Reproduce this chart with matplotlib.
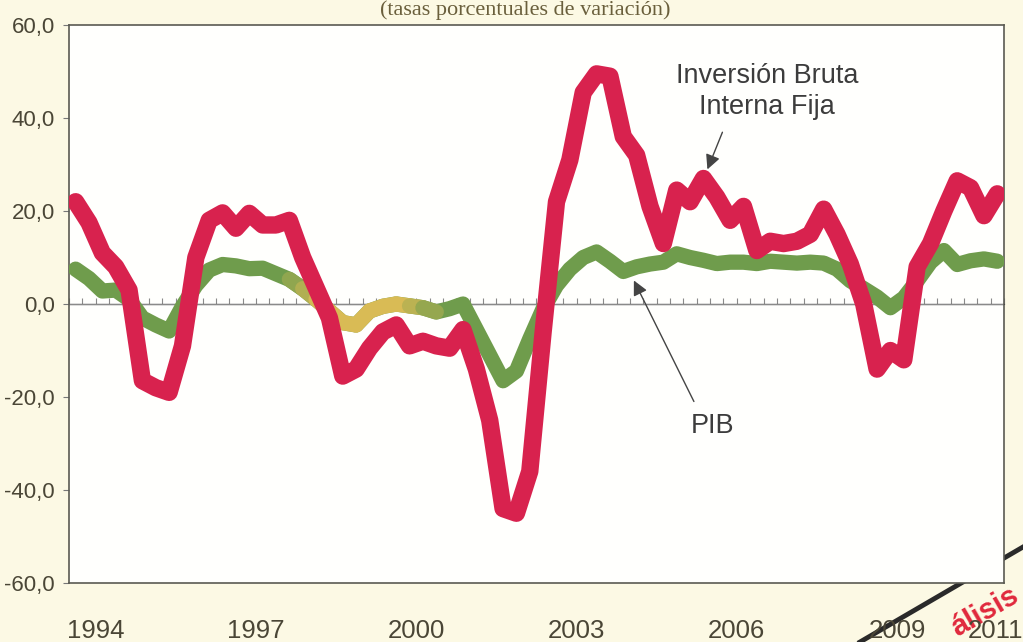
import numpy as np
import matplotlib
matplotlib.use("Agg")
import matplotlib.pyplot as plt
from matplotlib.collections import LineCollection
from matplotlib.colors import to_rgb

# ---------------- data ----------------
start_year = 1994
# Inversión Bruta Interna Fija, quarterly growth (%), 1994Q1 .. 2011Q2
ibif = [22.0, 17.5, 11.0, 8.0, 3.0, -16.5, -18.0, -19.0, -9.0, 10.0,
        18.0, 19.6, 16.3, 19.5, 17.0, 17.0, 18.0, 10.0, 3.5, -3.0,
        -15.5, -14.0, -9.5, -6.0, -4.5, -9.0, -8.0, -9.0, -9.5, -5.5,
        -14.0, -25.0, -44.0, -45.0, -36.0, -6.0, 22.0, 31.0, 45.5, 49.5,
        49.0, 36.0, 32.0, 21.0, 13.0, 24.5, 22.0, 27.0, 23.0, 18.0,
        21.0, 11.5, 13.5, 13.0, 13.5, 15.0, 20.4, 15.0, 8.6, 0.0,
        -14.0, -10.0, -12.0, 8.0, 13.0, 20.0, 26.5, 25.0, 19.0, 23.7]
# PIB, quarterly growth (%)
pib = [7.5, 5.5, 2.8, 3.0, 1.0, -3.0, -4.5, -5.8, -0.5, 4.0,
       7.3, 8.5, 8.2, 7.6, 7.7, 6.5, 5.3, 3.3, 1.0, -1.5,
       -4.0, -4.5, -1.5, -0.5, 0.0, -0.4, -0.8, -1.7, -1.0, 0.0,
       -5.5, -11.0, -16.5, -14.4, -7.5, -1.0, 4.0, 7.5, 10.0, 11.2,
       9.2, 7.0, 8.0, 8.6, 9.0, 10.8, 10.0, 9.4, 8.7, 9.0,
       9.0, 8.7, 9.2, 9.0, 8.8, 9.0, 8.8, 7.5, 5.0, 3.3,
       1.5, -0.8, 1.3, 5.0, 9.0, 11.5, 8.5, 9.3, 9.7, 9.2]
year_labels = ["1994", "1997", "2000", "2003", "2006", "2009", "2011"]
y_ticks = [-60, -40, -20, 0, 20, 40, 60]
y_tick_labels = ["-60,0", "-40,0", "-20,0", "0,0", "20,0", "40,0", "60,0"]
title_text = "(tasas porcentuales de variación)"
label_ibif = "Inversión Bruta\nInterna Fija"
label_pib = "PIB"
stamp_text = "álisis"

# ---------------- figure ----------------
bg = "#fcf9e4"
fig = plt.figure(figsize=(10.23, 6.42), dpi=100, facecolor=bg)

# scanned diagonal stroke (behind the plot area)
fig.add_artist(plt.Line2D([860 / 1023, 1.0], [0.0, 1 - 547 / 642],
                          transform=fig.transFigure, color="#2a2a2a", lw=3.5,
                          zorder=0))

ax = fig.add_axes([0.0674, 0.0919, 0.9140, 0.8691], zorder=1)
ax.set_facecolor("#fffffd")

n = len(ibif)
x = start_year + (np.arange(n) + 0.5) / 4.0

# PIB line with printing tint (green -> mustard -> green)
green = np.array(to_rgb("#6f9c4c"))
yellow = np.array(to_rgb("#d9bb55"))
ax.plot(x, pib, color=green, lw=11, solid_capstyle="round",
        solid_joinstyle="round", zorder=3)
def tint(xv):
    up = np.clip((xv - 1998.0) / 0.8, 0, 1)
    down = np.clip((2001.0 - xv) / 0.7, 0, 1)
    return np.minimum(up, down)
pts = np.column_stack([x, pib])
segs = np.stack([pts[:-1], pts[1:]], axis=1)
mid = (x[:-1] + x[1:]) / 2
w = tint(mid)
keep = w > 0.05
cols = green * (1 - w[keep, None]) + yellow * w[keep, None]
lc = LineCollection(segs[keep], colors=cols, linewidths=11, capstyle="round",
                    joinstyle="round", zorder=3.1)
ax.add_collection(lc)

ax.plot(x, ibif, color="#d8224e", lw=12.5, solid_capstyle="round",
        solid_joinstyle="round", zorder=4)

ax.set_xlim(start_year, 2011.5)
ax.set_ylim(-60, 60)

# zero line with quarterly ticks
ax.axhline(0, color="#8a8a8a", lw=1.0, zorder=2)
sec = ax.secondary_xaxis(0.5)
sec.set_xticks(start_year + np.arange(0, 71) / 4.0)
sec.set_xticklabels([])
sec.tick_params(axis="x", direction="out", length=4, width=0.8, color="#8a8a8a")
sec.spines["bottom"].set_visible(False)

# axis ticks & labels
xt = [int(s) + 0.5 for s in year_labels]
xt[-1] -= 0.15
ax.set_xticks(xt)
ax.set_xticklabels(year_labels)
ax.tick_params(axis="x", length=0, pad=26, labelsize=18.5, labelcolor="#4a4636")
ax.set_yticks(y_ticks)
ax.set_yticklabels(y_tick_labels)
ax.tick_params(axis="y", length=4, width=0.8, color="#777", pad=6,
               labelsize=16, labelcolor="#4a4636")
for lab in ax.get_xticklabels() + ax.get_yticklabels():
    lab.set_family(["Liberation Sans", "DejaVu Sans"])
    lab.set_zorder(10)
for sp in ax.spines.values():
    sp.set_color("#5a5a52")
    sp.set_linewidth(1.2)

# annotations
ax.text(2007.07, 45.8, label_ibif, ha="center", va="center", fontsize=19.5,
        color="#3c3c3c", family=["Liberation Sans", "DejaVu Sans"],
        linespacing=1.25, zorder=6)
ax.annotate("", xy=(2005.93, 28.4), xytext=(2006.25, 37.5),
            arrowprops=dict(arrowstyle="-|>", color="#444444", lw=1.0,
                            mutation_scale=22), zorder=6)
ax.text(2006.04, -26.2, label_pib, ha="center", va="center", fontsize=19.5,
        color="#3c3c3c", family=["Liberation Sans", "DejaVu Sans"], zorder=6)
ax.annotate("", xy=(2004.55, 5.6), xytext=(2005.72, -21.5),
            arrowprops=dict(arrowstyle="-|>", color="#444444", lw=1.0,
                            mutation_scale=22), zorder=6)

# partially visible title at the top
fig.text(0.513, 1 - 15 / 642, title_text, ha="center", va="baseline",
         fontsize=16, color="#6a5f3c",
         family=["Liberation Serif", "DejaVu Serif"])

# scanned red stamp in the lower-right corner
fig.text(985 / 1023, 1 - 612 / 642, stamp_text, ha="center", va="center",
         rotation=30, fontsize=21, fontweight="bold", color="#e0283c",
         family=["Liberation Sans", "DejaVu Sans"], zorder=0.5)

fig.savefig("out.png", dpi=100, facecolor=bg)
